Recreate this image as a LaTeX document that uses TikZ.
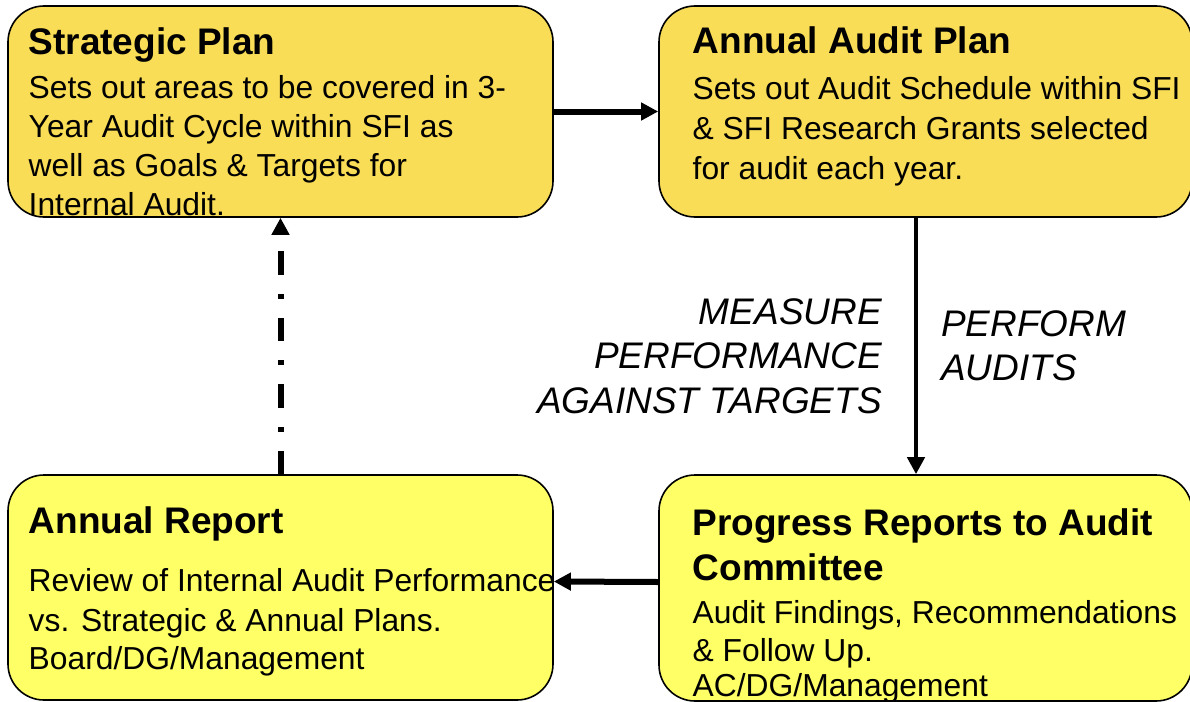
\documentclass[tikz,border=0pt]{standalone}
\usepackage{fontspec}
\setmainfont{Liberation Sans}
\usetikzlibrary{arrows.meta}
\definecolor{planfill}{RGB}{249,221,86}
\definecolor{reportfill}{RGB}{255,255,102}
\tikzset{
  panel/.style={draw=black, line width=1.6pt, rounded corners=36pt, inner sep=0pt},
  head/.style={anchor=base west, inner sep=0pt, font=\fontsize{37}{44}\selectfont\bfseries},
  body/.style={anchor=base west, inner sep=0pt, font=\fontsize{31.8}{40}\selectfont},
  cue/.style={inner sep=0pt, font=\fontsize{37}{44}\selectfont\itshape},
  flow/.style={line width=6pt, -{Triangle[length=17pt,width=17pt]}},
}
\begin{document}
\begin{tikzpicture}[x=1pt,y=-1pt]
\useasboundingbox (0,0) rectangle (1190,701);

% the four stages of the audit cycle
\node[panel, fill=planfill,   minimum width=545pt, minimum height=211pt] (strat)  at (280.5,111.5) {};
\node[panel, fill=planfill,   minimum width=533pt, minimum height=211pt] (annual) at (925.5,111.5) {};
\node[panel, fill=reportfill, minimum width=545pt, minimum height=225pt] (report) at (280.5,587.5) {};
\node[panel, fill=reportfill, minimum width=533pt, minimum height=226pt] (prog)   at (925.5,588) {};

% Strategic Plan
\node[head] (strat-t)  at (28.5,55)  {Strategic Plan};
\node[body] (strat-1)  at (28.5,98)  {Sets out areas to be covered in 3-};
\node[body] (strat-2)  at (28.5,137) {Year Audit Cycle within SFI as};
\node[body] (strat-3)  at (28.5,176) {well as Goals \& Targets for};
\node[body] (strat-4)  at (28.5,215) {Internal Audit.};

% Annual Audit Plan
\node[head] (annual-t) at (692.5,54)  {Annual Audit Plan};
\node[body] (annual-1) at (692.5,99)  {Sets out Audit Schedule within SFI};
\node[body] (annual-2) at (692.5,139) {\& SFI Research Grants selected};
\node[body] (annual-3) at (692.5,179) {for audit each year.};

% Annual Report
\node[head] (report-t) at (28.5,533) {Annual Report};
\node[body] (report-1) at (28.5,591) {Review of Internal Audit Performance};
\node[body] (report-2) at (28.5,631) {vs. Strategic \& Annual Plans.};
\node[body] (report-3) at (28.5,669) {Board/DG/Management};

% Progress Reports
\node[head] (prog-t1) at (692.5,535) {Progress Reports to Audit};
\node[head] (prog-t2) at (692.5,580) {Committee};
\node[body] (prog-1)  at (692.5,623) {Audit Findings, Recommendations};
\node[body] (prog-2)  at (692.5,661) {\& Follow Up.};
\node[body] (prog-3)  at (692.5,696) {AC/DG/Management};

% labels beside the vertical connectors
\node[cue, anchor=base east] (measure-1) at (882,324) {MEASURE};
\node[cue, anchor=base east] (measure-2) at (882,368) {PERFORMANCE};
\node[cue, anchor=base east] (measure-3) at (882,413) {AGAINST TARGETS};
\node[cue, anchor=base west] (perform-1) at (941,336) {PERFORM};
\node[cue, anchor=base west] (perform-2) at (941,380) {AUDITS};

% connectors
\draw[flow] (strat.east) -- (annual.west);
\draw[flow, line width=4.5pt] ([xshift=-9.5pt]annual.south) -- ([xshift=-9.5pt]prog.north);
\draw[flow] ([yshift=6pt]prog.west) -- ([yshift=6pt]report.east);
\draw[flow, dash pattern=on 23.5pt off 19pt on 5pt off 19pt]
  (report.north) -- (strat.south);
\end{tikzpicture}
\end{document}
